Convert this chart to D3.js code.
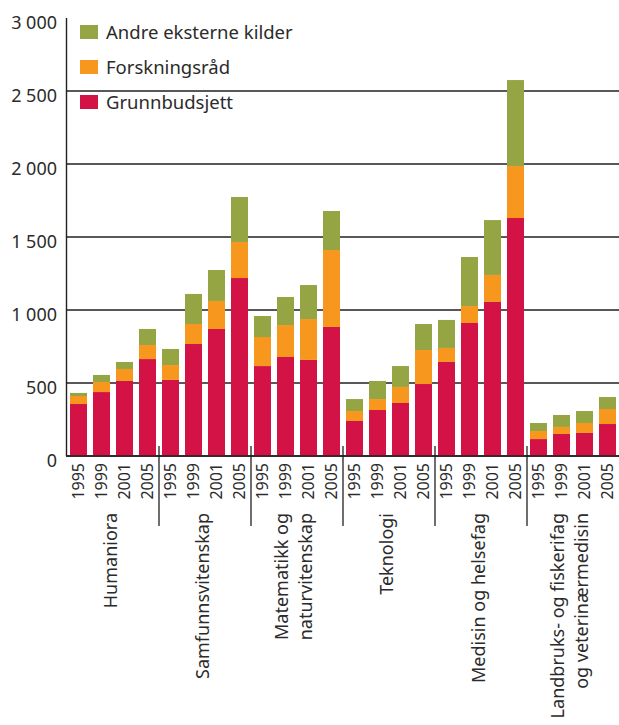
<!DOCTYPE html>
<html>
<head>
<meta charset="utf-8">
<script src="https://cdn.jsdelivr.net/npm/d3@7"></script>
<style>
  body { margin: 0; background: #fff; }
  svg text { font-family: "Noto Sans", sans-serif; fill: #2b2b2b; }
</style>
</head>
<body>
<div id="chart"></div>
<script>
// Chart data
const categories = [
    "Humaniora",
    "Samfunnsvitenskap",
    "Matematikk og\nnaturvitenskap",
    "Teknologi",
    "Medisin og helsefag",
    "Landbruks- og fiskerifag\nog veterinærmedisin"
];
const years = ["1995", "1999", "2001", "2005"];

// one value per category/year, in the order above
const grunnbudsjett = [356, 438, 514, 664, 521, 767, 870, 1219, 616, 678, 658, 884,
    240, 315, 363, 493, 644, 911, 1055, 1630, 116, 151, 158, 219];
const forskningsrad = [55, 69, 82, 96, 102, 137, 192, 247, 199, 219, 280, 527,
    68, 75, 110, 233, 96, 116, 185, 356, 55, 48, 68, 103];
const andreEksterne = [21, 48, 48, 110, 110, 206, 212, 308, 144, 192, 233, 267,
    82, 124, 143, 178, 192, 336, 376, 589, 55, 82, 82, 82];

const seriesNames = ["Grunnbudsjett", "Forskningsråd", "Andre eksterne kilder"];
const seriesColors = ["#d31245", "#f7971e", "#95a544"];
const yTicks = [0, 500, 1000, 1500, 2000, 2500, 3000];

function createChart() {
    const width = 619, height = 725;
    const svg = d3.select("#chart").append("svg")
        .attr("width", width)
        .attr("height", height);

    // build rows for the stack
    const rows = [];
    categories.forEach((c, ci) => {
        years.forEach((y, yi) => {
            const i = ci * years.length + yi;
            rows.push({
                key: i, cat: ci, year: y,
                "Grunnbudsjett": grunnbudsjett[i],
                "Forskningsråd": forskningsrad[i],
                "Andre eksterne kilder": andreEksterne[i]
            });
        });
    });

    const x = d3.scaleBand()
        .domain(rows.map(d => d.key))
        .range([66, 620])
        .paddingInner(6 / 23)
        .paddingOuter(4 / 23);

    const y = d3.scaleLinear()
        .domain([0, 3000])
        .range([456, 18]);

    const color = d3.scaleOrdinal().domain(seriesNames).range(seriesColors);
    const fmt = d3.formatLocale({ decimal: ",", thousands: "\u00a0", grouping: [3], currency: ["", ""] }).format(",d");

    // gridlines
    svg.append("g").selectAll("line")
        .data(yTicks.filter(t => t < 3000))
        .enter().append("line")
        .attr("x1", 66).attr("x2", width)
        .attr("y1", d => y(d)).attr("y2", d => y(d))
        .attr("stroke", "#231f20").attr("stroke-width", 1.4);

    // y axis line
    svg.append("line")
        .attr("x1", 66.5).attr("x2", 66.5)
        .attr("y1", y(3000)).attr("y2", y(0))
        .attr("stroke", "#231f20").attr("stroke-width", 1.4);

    // y tick labels
    svg.append("g").selectAll("text")
        .data(yTicks)
        .enter().append("text")
        .attr("x", 57)
        .attr("y", d => y(d) + 10.5)
        .attr("text-anchor", "end")
        .style("font-size", "18px")
        .text(d => fmt(d));

    // stacked bars
    const stack = d3.stack().keys(seriesNames)(rows);
    svg.append("g").selectAll("g")
        .data(stack)
        .enter().append("g")
        .attr("fill", d => color(d.key))
        .selectAll("rect")
        .data(d => d)
        .enter().append("rect")
        .attr("x", d => x(d.data.key))
        .attr("y", d => y(d[1]))
        .attr("width", x.bandwidth())
        .attr("height", d => y(d[0]) - y(d[1]));

    // redraw baseline on top of bars
    svg.append("line")
        .attr("x1", 66).attr("x2", width)
        .attr("y1", y(0)).attr("y2", y(0))
        .attr("stroke", "#231f20").attr("stroke-width", 1.4);

    // year labels
    svg.append("g").selectAll("text")
        .data(rows)
        .enter().append("text")
        .attr("transform", d => `translate(${x(d.key) + x.bandwidth() / 2 + 5},463) rotate(-90)`)
        .attr("text-anchor", "end")
        .style("font-size", "16px")
        .text(d => d.year);

    // group separators
    const step = x.step();
    const sepX = d3.range(1, categories.length).map(ci =>
        x(ci * years.length) - (step - x.bandwidth()) / 2);
    svg.append("g").selectAll("line")
        .data(sepX)
        .enter().append("line")
        .attr("x1", d => d).attr("x2", d => d)
        .attr("y1", 446).attr("y2", 526)
        .attr("stroke", "#231f20").attr("stroke-width", 1.3);

    // category labels
    const catLabels = svg.append("g").selectAll("text")
        .data(categories)
        .enter().append("text")
        .attr("transform", (d, ci) => {
            const first = x(ci * years.length);
            const last = x(ci * years.length + years.length - 1) + x.bandwidth();
            return `translate(${(first + last) / 2 + 4},513) rotate(-90)`;
        })
        .attr("text-anchor", "end")
        .style("font-size", "18px");

    catLabels.each(function(d) {
        const lines = d.split("\n");
        const t = d3.select(this);
        lines.forEach((line, li) => {
            t.append("tspan")
                .attr("x", 0)
                .attr("y", lines.length > 1 ? (li - 0.5) * 24 - 1 : 0)
                .text(line);
        });
    });

    // legend
    const legendItems = seriesNames.slice().reverse();
    const legend = svg.append("g").selectAll("g")
        .data(legendItems)
        .enter().append("g")
        .attr("transform", (d, i) => `translate(80,${32 + i * 35})`);

    legend.append("rect")
        .attr("x", 0).attr("y", -7)
        .attr("width", 18).attr("height", 14)
        .attr("fill", d => color(d));

    legend.append("text")
        .attr("x", 26).attr("y", 6.5)
        .style("font-size", "18.5px")
        .text(d => d);
}

createChart();
</script>
</body>
</html>
